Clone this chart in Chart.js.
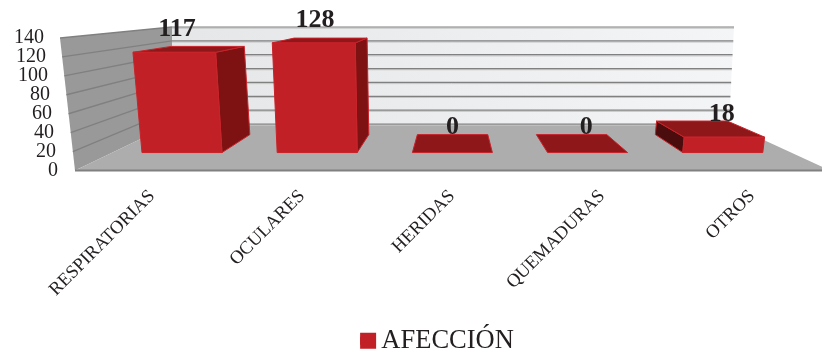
<!DOCTYPE html>
<html>
<head>
<meta charset="utf-8">
<style>
  html, body { margin: 0; background: #fff; }
  canvas { display: block; }
</style>
<script src="https://cdn.jsdelivr.net/npm/chart.js@4/dist/chart.umd.js"></script>
</head>
<body>
<canvas id="chart" width="822" height="354"></canvas>
<script>
const categories = ["RESPIRATORIAS", "OCULARES", "HERIDAS", "QUEMADURAS", "OTROS"];
const values = [117, 128, 0, 0, 18];
const seriesName = "AFECCIÓN";

const textColor = "#231f20";
const barColor = "#c12026";
const serif = "'Liberation Serif', 'Times New Roman', serif";

// perspective of the box: everything runs back towards this point
const vanish = { x: 454, y: 3 };
const depth = 0.12;
const leanCentre = 410;
const leanRate = 0.000337;

function toBack(p) {
  return { x: p.x + (vanish.x - p.x) * depth, y: p.y + (vanish.y - p.y) * depth };
}

function topOf(x, base, y) {
  return { x: x + (x - leanCentre) * leanRate * (base - y), y: y };
}

function poly(ctx, pts, fill, stroke) {
  ctx.beginPath();
  pts.forEach((p, i) => (i ? ctx.lineTo(p.x, p.y) : ctx.moveTo(p.x, p.y)));
  ctx.closePath();
  ctx.fillStyle = fill;
  ctx.fill();
  if (stroke) {
    ctx.strokeStyle = stroke;
    ctx.lineWidth = 1;
    ctx.stroke();
  }
}

function line(ctx, a, b, color, width) {
  ctx.beginPath();
  ctx.moveTo(a.x, a.y);
  ctx.lineTo(b.x, b.y);
  ctx.strokeStyle = color;
  ctx.lineWidth = width;
  ctx.stroke();
}

const box3d = {
  id: "box3d",
  beforeDatasetsDraw(chart) {
    const { ctx, scales } = chart;
    const y = scales.y;
    const floorFront = y.getPixelForValue(0);
    const wallTop = 27, wallBottom = 124, wallLeft = 172;
    const frontX = (v) => 75 - 15 * v / y.max;
    const backY = (v) => wallBottom - (wallBottom - wallTop) * v / y.max;
    const rightX = (v) => 729 + 5 * v / y.max;

    // back wall
    const grad = ctx.createLinearGradient(wallLeft, wallBottom, 735, wallTop);
    grad.addColorStop(0, "#e5e6e7");
    grad.addColorStop(1, "#f4f5f6");
    poly(ctx, [{ x: wallLeft, y: wallTop }, { x: rightX(y.max), y: wallTop },
      { x: rightX(0), y: wallBottom }, { x: wallLeft, y: wallBottom }], grad);

    // left wall
    poly(ctx, [{ x: frontX(y.max), y: y.getPixelForValue(y.max) }, { x: wallLeft, y: wallTop },
      { x: wallLeft, y: wallBottom }, { x: frontX(0), y: floorFront }], "#999999");

    // floor
    poly(ctx, [{ x: wallLeft, y: wallBottom }, { x: rightX(0), y: wallBottom },
      { x: 830, y: floorFront }, { x: frontX(0), y: floorFront }], "#adadad");

    // grid lines follow the y scale ticks round both walls
    y.ticks.forEach((t) => {
      const yb = backY(t.value);
      const a = { x: frontX(t.value), y: y.getPixelForValue(t.value) };
      const b = { x: wallLeft, y: yb };
      const c = { x: rightX(t.value), y: yb };
      if (t.value > 0) {
        line(ctx, a, b, "#808080", 1.4);
      }
      line(ctx, { x: b.x, y: yb + 1.2 }, { x: c.x, y: yb + 1.2 }, "#c4c5c6", 1);
      line(ctx, b, c, "#808080", 1.2);
    });
    line(ctx, { x: frontX(0), y: floorFront }, { x: 822, y: floorFront }, "#808080", 2);

    // y axis labels lean with the wall edge
    ctx.font = "20px " + serif;
    ctx.fillStyle = textColor;
    ctx.textAlign = "right";
    ctx.textBaseline = "middle";
    y.ticks.forEach((t) => {
      ctx.fillText(t.label, 58 - 14 * t.value / y.max, y.getPixelForValue(t.value));
    });
  },
  beforeDatasetDraw(chart, args) {
    const { ctx } = chart;
    args.meta.data.forEach((bar) => {
      const half = bar.width / 2;
      const fl = { x: bar.x - half, y: bar.base };
      const fr = { x: bar.x + half, y: bar.base };
      const tl = topOf(fl.x, bar.base, bar.y);
      const tr = topOf(fr.x, bar.base, bar.y);
      const bl = toBack(fl), br = toBack(fr), btl = toBack(tl), btr = toBack(tr);
      const edge = "#c8232a";
      if (bar.base - bar.y > 0.5) {
        if (fl.x > vanish.x) poly(ctx, [btl, tl, fl, bl], "#4a0c0c", edge);
        if (fr.x < vanish.x) poly(ctx, [tr, btr, br, fr], "#7e1212", edge);
      }
      poly(ctx, [tl, tr, btr, btl], "#8e1719", edge);
      if (bar.base - bar.y > 0.5) poly(ctx, [fl, fr, tr, tl], barColor, edge);
    });
    // stop the library painting flat bars over the faces
    return false;
  },
  afterDatasetsDraw(chart) {
    const { ctx } = chart;
    ctx.font = "bold 26px " + serif;
    ctx.fillStyle = textColor;
    ctx.textAlign = "center";
    ctx.textBaseline = "alphabetic";
    chart.getDatasetMeta(0).data.forEach((bar, i) => {
      const top = topOf(bar.x, bar.base, bar.y);
      const x = top.x + (toBack(top).x - top.x) * 0.08;
      ctx.fillText(values[i], x, bar.y - (values[i] ? 16 : 19));
    });
  },
  afterDraw(chart) {
    // the legend leaves too wide a gap after a full box, so its short box is widened here
    const hit = chart.legend.legendHitBoxes[0];
    chart.ctx.fillStyle = barColor;
    chart.ctx.fillRect(hit.left, hit.top + hit.height / 2 - 8, 16, 16);
  }
};

new Chart(document.getElementById("chart"), {
  type: "bar",
  data: {
    labels: categories,
    datasets: [{
      label: seriesName,
      data: values.map((v, i) => ({ x: i, y: v })),
      xAxisID: "xBars",
      yAxisID: "yBars",
      backgroundColor: barColor,
      borderWidth: 0,
      barThickness: 80
    }]
  },
  options: {
    responsive: false,
    animation: false,
    layout: { padding: { left: 52, right: 0, top: 38, bottom: -10 } },
    plugins: {
      tooltip: { enabled: false },
      legend: {
        position: "bottom",
        labels: {
          boxWidth: 8,
          boxHeight: 8,
          color: textColor,
          font: { family: serif, size: 26.5 },
          padding: 4
        }
      }
    },
    scales: {
      x: {
        type: "category",
        offset: true,
        grid: { display: false },
        border: { display: false },
        afterFit: (s) => { s.height = 153; },
        ticks: {
          autoSkip: false,
          minRotation: 45,
          maxRotation: 45,
          labelOffset: 5,
          padding: 7,
          color: textColor,
          font: { family: serif, size: 18.5 }
        }
      },
      y: {
        min: 0,
        max: 140,
        grid: { display: false },
        border: { display: false },
        afterFit: (s) => { s.width = 20; },
        ticks: { stepSize: 20, display: false }
      },
      // bars stand further back than the axis edge, so they get their own scales
      xBars: { type: "linear", axis: "x", display: false, offset: false, min: -0.8136, max: 4.734 },
      yBars: { type: "linear", axis: "y", display: false, min: -20.93, max: 133.7 }
    }
  },
  plugins: [box3d]
});
</script>
</body>
</html>
